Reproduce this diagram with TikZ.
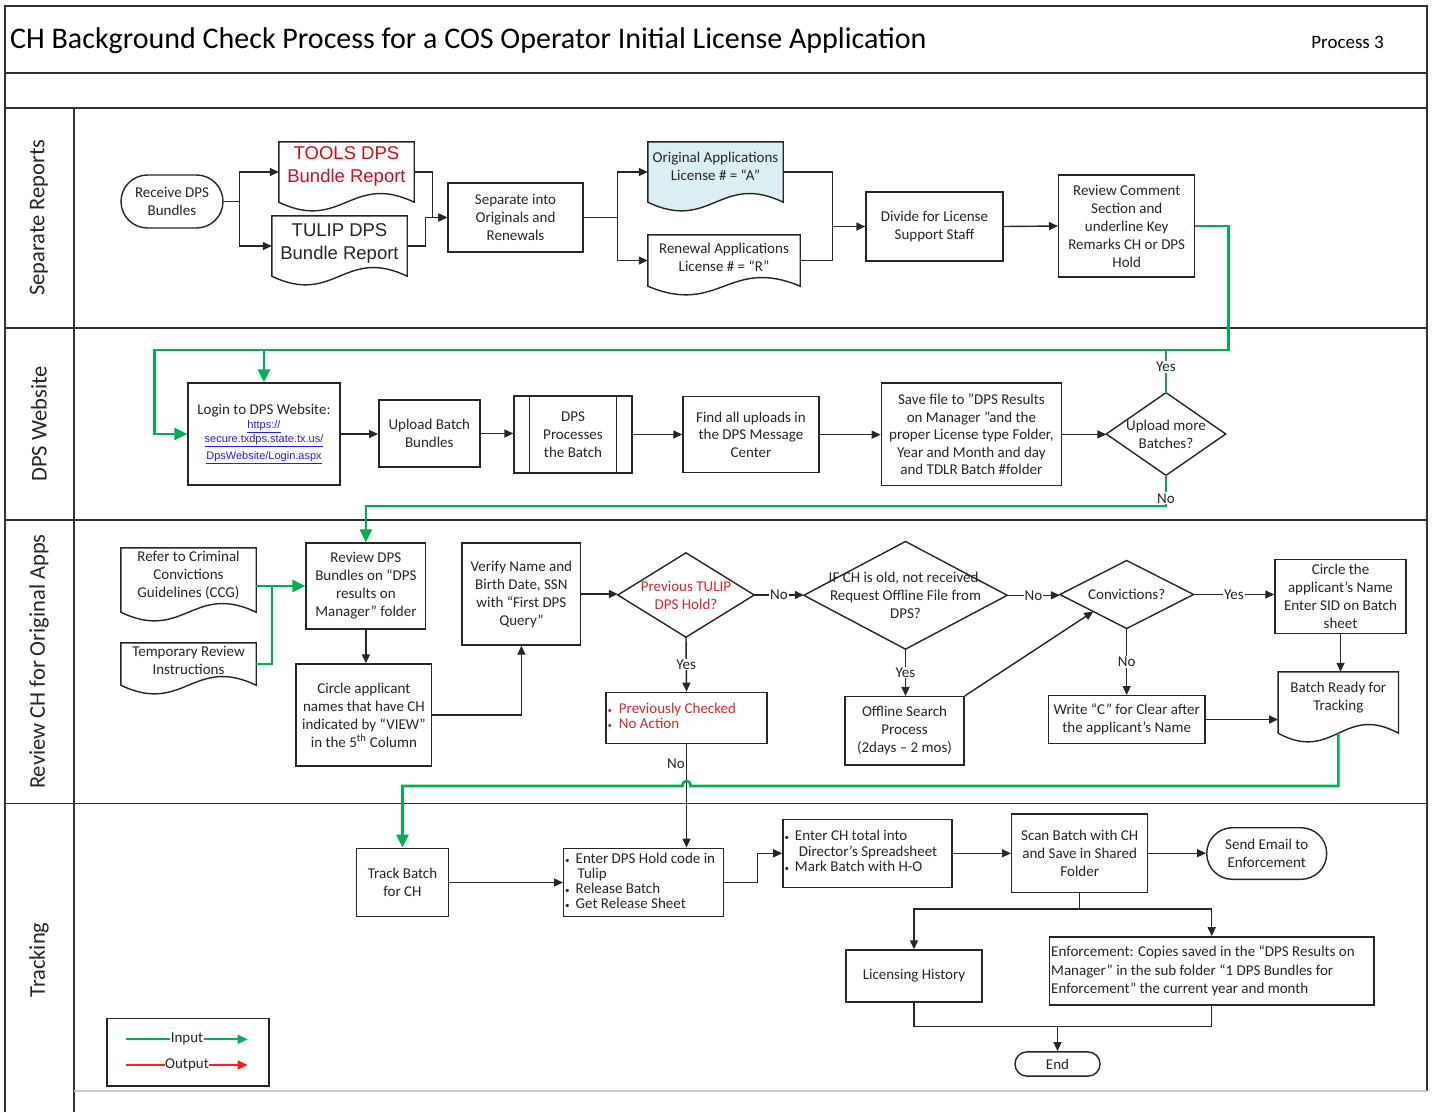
\documentclass[tikz,border=0pt]{standalone}
\usepackage{fontspec}
\setmainfont{Carlito}
\newfontfamily\arialfont{Liberation Sans}
\usetikzlibrary{arrows.meta,calc,backgrounds}

\definecolor{ink}{HTML}{262626}
\definecolor{framec}{HTML}{303030}
\definecolor{flowgreen}{HTML}{00B050}
\definecolor{alertred}{HTML}{D42A2A}
\definecolor{toolsred}{HTML}{D0101A}
\definecolor{docblue}{HTML}{DBEEF4}
\definecolor{linkblue}{HTML}{2020F0}
\definecolor{legendred}{HTML}{FF2020}
\definecolor{lanegray}{HTML}{C8C8C8}

\newcommand\fbody{\fontsize{15}{18}\selectfont}
\newcommand\flist{\fontsize{15}{15}\selectfont}
\newcommand\farial{\arialfont\fontsize{18.5}{22.5}\selectfont}
\newcommand\flink{\arialfont\fontsize{11}{12}\selectfont}
\newcommand\flane{\fontsize{22.5}{26}\selectfont}
\newcommand\dotbullet{{\fontsize{9}{9}\selectfont\textbullet}}
\newcommand\weblink[1]{\textcolor{linkblue}{\flink\underline{#1}}}
% natural interword spacing inside left-aligned boxes
\newcommand\natspace{\spaceskip=0pt\xspaceskip=0pt\relax}

% document symbol: straight top and sides, wavy bottom edge
\newcommand\docoutline[2][]{%
  \path[docline,#1] (#2.north west) -- (#2.south west)
    .. controls ($(#2.south)+(-5,30)$) and ($(#2.south)+(5,-30)$) .. (#2.south east)
    -- (#2.north east) -- cycle;}

\tikzset{
  base/.style={font=\fbody, text=ink, align=center, inner sep=2pt},
  sz/.style 2 args={minimum width=#1pt, minimum height=#2pt},
  box/.style={base, draw=ink, line width=1.4pt},
  term/.style={box, rounded corners=#1},
  doc/.style={base, inner sep=1pt},
  decision/.style={base, inner sep=0pt},
  docline/.style={draw=ink, line width=1.4pt},
  line/.style={draw=ink, line width=1.4pt},
  arr/.style={line, -{Triangle[length=9pt,width=8pt]}},
  gline/.style={draw=flowgreen, line width=2.6pt},
  garr/.style={gline, -{Triangle[length=13pt,width=12pt]}},
  lab/.style={font=\fbody, text=ink, fill=white, inner sep=1pt},
  frame/.style={draw=framec, line width=1.6pt},
  lane/.style={font=\flane, text=ink, rotate=90},
}

\begin{document}
\begin{tikzpicture}[x=1pt,y=-1pt]
\useasboundingbox (0,0) rectangle (1432,1112);

% ---------- frame and swimlanes ----------
\draw[frame] (5,1112) -- (5,6) -- (1427,6) -- (1427,1091);
\draw[frame] (5,72.7) -- (1427,72.7);
\draw[frame] (5,108) -- (1427,108);
\draw[frame] (5,328) -- (1427,328);
\draw[frame] (5,520) -- (1427,520);
\draw[frame] (5,803.3) -- (1427,803.3);
\draw[frame] (74,108) -- (74,1112);
\draw[draw=lanegray, line width=2pt] (74,1091) -- (1427,1091);

\node[anchor=base west, font=\fontsize{30}{33}\selectfont, text=black, inner sep=0pt] (title) at (10,48)
  {CH Background Check Process for a COS Operator Initial License Application};
\node[anchor=base east, font=\fontsize{19}{22}\selectfont, text=black, inner sep=0pt] (procno) at (1384,48) {Process 3};

\node[lane] (laneA) at (39,217.5) {Separate Reports};
\node[lane] (laneB) at (39,424) {DPS Website};
\node[lane] (laneC) at (39,661.5) {Review CH for Original Apps};
\node[lane] (laneD) at (39,960) {Tracking};

% ---------- Separate Reports ----------
\node[term=26.5pt, sz={102}{53}] (recv) at (172,201.5) {Receive DPS\\Bundles};
\node[doc, sz={135}{60}, font=\farial, text=toolsred, text depth=15pt] (tools) at (346.5,172) {TOOLS DPS\\Bundle Report};
\node[doc, sz={135}{60}, font=\farial, text depth=9pt] (tulip) at (339.5,246) {TULIP DPS\\Bundle Report};
\node[box, sz={135}{69}] (sep) at (515.5,217.5) {Separate into\\Originals and\\Renewals};
\node[doc, sz={135}{60}, text depth=11pt] (orig) at (715.5,172) {Original Applications\\License \# = “A”};
\node[doc, sz={152}{51}, text depth=6pt] (renew) at (724,260.5) {Renewal Applications\\License \# = “R”};
\node[box, sz={137}{69}] (divide) at (934.5,226.5) {Divide for License\\Support Staff};
\node[box, sz={136}{102}] (review) at (1126.7,226) {Review Comment\\Section and\\underline Key\\Remarks CH or DPS\\Hold};

% ---------- DPS Website ----------
\node[box, sz={152}{102}] (login) at (264,434) {Login to DPS Website:\\[-4pt]\weblink{https://}\\[-4pt]\weblink{secure.txdps.state.tx.us/}\\[-1pt]\weblink{DpsWebsite/Login.aspx}};
\node[box, sz={101}{67}] (upload) at (429.3,433.5) {Upload Batch\\Bundles};
\node[box, sz={118}{77}] (proc) at (573,434.5) {DPS\\Processes\\the Batch};
\node[box, sz={136}{76}, font=\fontsize{15}{17.5}\selectfont] (find) at (751,434.7) {Find all uploads in\\the DPS Message\\Center};
\node[box, sz={180}{102.7}, font=\fontsize{15}{17.5}\selectfont] (save) at (971.4,434.4) {Save file to "DPS Results\\on Manager "and the\\proper License type Folder,\\Year and Month and day\\and TDLR Batch \#folder};
\node[decision, sz={119}{82.3}] (more) at (1166,434) {Upload more\\Batches?};

% ---------- Review CH for Original Apps ----------
\node[doc, sz={135}{64}, text depth=12pt] (ccg) at (188.5,580) {Refer to Criminal\\Convictions\\Guidelines (CCG)};
\node[doc, sz={135}{42}, text depth=8pt] (tmp) at (188.5,664) {Temporary Review\\Instructions};
\node[box, sz={119.7}{86}] (rev) at (365.9,586) {Review DPS\\Bundles on “DPS\\results on\\Manager” folder};
\node[box, sz={135.7}{102}] (circ) at (363.9,715) {Circle applicant\\names that have CH\\indicated by “VIEW”\\in the 5\textsuperscript{th} Column};
\node[box, sz={118.7}{102}] (verify) at (521.4,594) {Verify Name and\\Birth Date, SSN\\with “First DPS\\Query”};
\node[decision, sz={136}{84}, text=alertred] (prev) at (686,595) {Previous TULIP\\DPS Hold?};
\node[decision, sz={203}{107.3}] (oldch) at (905.5,595.3) {IF CH is old, not received.\\Request Offline File from\\DPS?};
\node[decision, sz={133.3}{67.6}] (conv) at (1126.7,594.5) {Convictions?};
\node[box, sz={131}{74}, font=\fontsize{15}{17.7}\selectfont] (circname) at (1340.5,596.3) {Circle the\\applicant’s Name\\Enter SID on Batch\\sheet};
\node[doc, sz={120}{61}, text depth=13pt] (ready) at (1338.3,702.5) {Batch Ready for\\Tracking};
\node[box, sz={161}{51}, align=left, text width=158pt, inner xsep=1pt, font=\fontsize{15}{14}\selectfont, text=alertred] (prevbox) at (686.5,717.8)
  {\natspace\begin{tabular}{@{}l@{\hspace{7pt}}l@{}}\dotbullet & Previously Checked\\ \dotbullet & No Action\end{tabular}};
\node[box, sz={119}{68.3}] (offline) at (904.5,730.8) {Offline Search\\Process\\(2days – 2 mos)};
\node[box, sz={156.7}{47.6}] (writec) at (1126.7,719.5) {Write “C” for Clear after\\the applicant’s Name};

% ---------- Tracking ----------
\node[box, sz={92}{68.4}] (track) at (402.5,882.5) {Track Batch\\for CH};
\node[box, sz={160}{68.4}, align=left, text width=157pt, inner xsep=1pt, font=\flist] (hold) at (643.7,882.5)
  {\natspace\begin{tabular}{@{}l@{\hspace{6pt}}l@{}}\dotbullet & Enter DPS Hold code in\\ & \hspace{2pt}Tulip\\ \dotbullet & Release Batch\\ \dotbullet & Get Release Sheet\end{tabular}};
\node[box, sz={169.3}{68}, align=left, text width=166pt, inner xsep=1pt, font=\fontsize{15}{15.5}\selectfont] (entch) at (867.5,853.3)
  {\natspace\begin{tabular}{@{}l@{\hspace{6pt}}l@{}}\dotbullet & Enter CH total into\\ & \hspace{4pt}Director’s Spreadsheet\\ \dotbullet & Mark Batch with H-O\end{tabular}};
\node[box, sz={136}{78.3}] (scan) at (1079.7,853.2) {Scan Batch with CH\\and Save in Shared\\Folder};
\node[term=25.8pt, sz={120}{51.6}] (email) at (1266.7,853.5) {Send Email to\\Enforcement};
\node[box, sz={136}{52}] (lic) at (914,976) {Licensing History};
\node[box, sz={324.7}{68.3}, align=left, text width=321pt, inner xsep=1.5pt, font=\fontsize{15}{18.5}\selectfont] (enf) at (1211.7,971)
  {\natspace Enforcement: Copies saved in the “DPS Results on\\Manager” in the sub folder “1 DPS Bundles for\\Enforcement” the current year and month};
\node[term=12pt, sz={85}{24.3}] (endn) at (1057.5,1064) {End};

% ---------- legend ----------
\node[box, sz={162}{67.7}] (legend) at (188,1052.2) {};
\coordinate (inA) at ($(legend.west)+(20,-12.9)$);
\coordinate (inB) at ($(legend.east)+(-22,-12.9)$);
\coordinate (outA) at ($(legend.west)+(20,12.8)$);
\coordinate (outB) at ($(legend.east)+(-22,12.8)$);
\draw[draw=flowgreen, line width=1.8pt, -{Triangle[length=10pt,width=9pt]}] (inA) -- (inB)
  node[midway, font=\fbody, text=ink, fill=white, inner sep=0.5pt] (lgIn) {Input};
\draw[draw=legendred, line width=1.8pt, -{Triangle[length=10pt,width=9pt]}] (outA) -- (outB)
  node[midway, font=\fbody, text=ink, fill=white, inner sep=0.5pt] (lgOut) {Output};

% ---------- outlines of documents, decisions and the predefined process ----------
\begin{scope}[on background layer]
  \fill[white] (0,0) rectangle (1432,1112);
  \docoutline[fill=docblue]{orig}
  \foreach \n in {tools,tulip,renew,ccg,tmp,ready} {\docoutline{\n}}
  \foreach \n in {more,prev,oldch,conv}
    {\path[docline] (\n.north) -- (\n.east) -- (\n.south) -- (\n.west) -- cycle;}
\end{scope}
\draw[line] ($(proc.north west)+(16,0)$) -- ($(proc.south west)+(16,0)$);
\draw[line] ($(proc.north east)+(-16,0)$) -- ($(proc.south east)+(-16,0)$);

% ---------- helper points for the lane-crossing routes ----------
\coordinate (gTR) at (1228.6,350);
\coordinate (gTL) at (154.3,350);
\coordinate (gBR) at (1166,506);
\coordinate (gLow) at (0,786);
\coordinate (mergeY) at (0,1026.7);

% ---------- connectors: Separate Reports ----------
\draw[arr] (recv.east) -- ++(16,0) coordinate (fork1) |- (tools.west);
\draw[arr] (fork1) |- (tulip.west);
\draw[arr] (tools.east) -- ++(18,0) |- (sep.west);
\draw[arr] (tulip.east) -- ++(18,0) |- (sep.west);
\draw[arr] (sep.east) -- ++(34,0) coordinate (fork2) |- (orig.west);
\draw[arr] (fork2) |- (renew.west);
\coordinate (join2) at ($(divide.west)+(-33,0)$);
\draw[line] (orig.east) -| (join2);
\draw[line] (renew.east) -| (join2);
\draw[arr] (join2) -- (divide.west);
\draw[arr] (divide.east) -- (review.west);

% ---------- connectors: DPS Website ----------
\draw[garr] (review.east) -| (gTR) -- (gTL) |- (login.west);
\draw[garr] (login.north |- gTL) -- (login.north);
\draw[gline] (more.north) -- (more.north |- gTL) node[lab, pos=0.6] (lyes1) {Yes};
\draw[arr] (login.east) -- (login.east -| upload.west);
\draw[arr] (upload.east) -- (upload.east -| proc.west);
\draw[arr] (proc.east) -- (proc.east -| find.west);
\draw[arr] (find.east) -- (find.east -| save.west);
\draw[arr] (save.east) -- (save.east -| more.west);
\draw[garr] (more.south) -- (gBR) node[lab, pos=0.75] (lno1) {No} -| (rev.north);

% ---------- connectors: Review CH ----------
\draw[garr] (ccg.east |- rev.west) -- (rev.west);
\draw[gline] (tmp.east) -| ($(rev.west)+(-33.3,0)$);
\draw[arr] (rev.south) -- (rev.south |- circ.north);
\draw[arr] (circ.east) -| (verify.south);
\draw[arr] (verify.east) -- (verify.east -| prev.west);
\draw[arr] (prev.east) -- (prev.east -| oldch.west) node[lab, midway] (lno2) {No};
\draw[arr] (oldch.east) -- (oldch.east -| conv.west) node[lab, midway] (lno3) {No};
\draw[arr] (conv.east) -- (conv.east -| circname.west) node[lab, midway] (lyes2) {Yes};
\draw[arr] (circname.south) -- (circname.south |- ready.north);
\draw[arr] (prev.south) -- (prevbox.north) node[lab, midway] (lyes3) {Yes};
\draw[arr] (oldch.south) -- (oldch.south |- offline.north) node[lab, midway] (lyes4) {Yes};
\draw[arr] (offline.north east) -- ($(conv.west)!0.5!(conv.south)$);
\draw[arr] (conv.south) -- (writec.north) node[lab, midway] (lno4) {No};
\draw[arr] (writec.east) -- (writec.east -| ready.west);

% ---------- connectors: Tracking ----------
\draw[arr] (prevbox.south) -- (prevbox.south |- hold.north) node[lab, pos=0.19, anchor=east] (lno5) {No};
\coordinate (hopR) at ($(prevbox.south |- gLow)+(4,0)$);
\coordinate (hopL) at ($(prevbox.south |- gLow)+(-4,0)$);
\draw[garr] (ready.south) |- (hopR) .. controls ($(hopR)+(0,-7)$) and ($(hopL)+(0,-7)$) .. (hopL)
  -- (hopL -| track.north) -- (track.north);
\draw[arr] (track.east) -- (track.east -| hold.west);
\draw[arr] (hold.east) -- ++(33.3,0) |- (entch.west);
\draw[arr] (entch.east) -- (entch.east -| scan.west);
\draw[arr] (scan.east) -- (scan.east -| email.west);
\draw[line] (scan.south) -- ++(0,16) coordinate (fork3);
\draw[arr] (fork3) -| (lic.north);
\draw[arr] (fork3) -| (enf.north);
\draw[line] (lic.south) |- (mergeY -| enf.south) -- (enf.south);
\draw[arr] (endn.north |- mergeY) -- (endn.north);
\end{tikzpicture}
\end{document}
